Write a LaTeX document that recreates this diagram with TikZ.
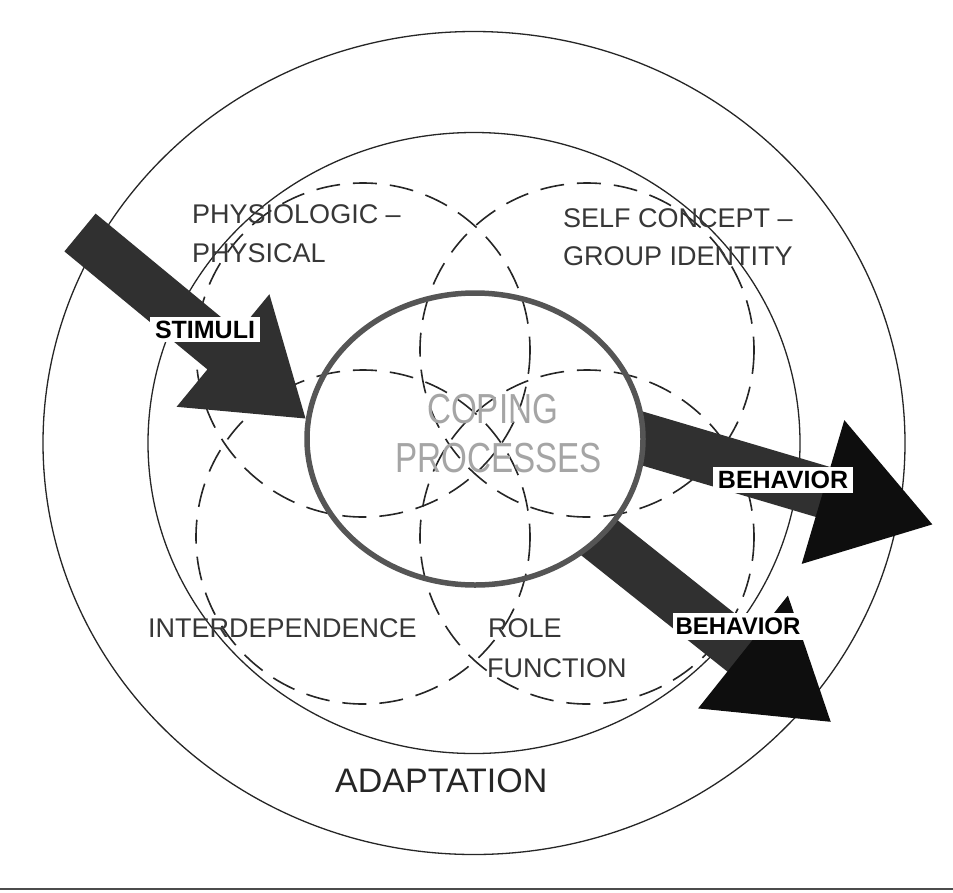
\documentclass[tikz,border=0pt]{standalone}
\usepackage{fontspec}
\setmainfont{Liberation Sans}
\newfontfamily\narrowfont[FakeStretch=0.79]{Liberation Sans}
\newfontfamily\boxfont{Liberation Sans}
\definecolor{arrowgray}{RGB}{48,48,48}
\definecolor{arrowblack}{RGB}{14,14,14}
\definecolor{ringgray}{RGB}{85,85,85}
\definecolor{labelgray}{RGB}{55,55,55}
\definecolor{copinggray}{RGB}{165,165,165}
\tikzset{
  thinring/.style={draw=black!85, line width=1.3},
  modering/.style={draw=black!85, line width=1.6, dash pattern=on 24 off 13},
  copingring/.style={draw=ringgray, line width=5.5},
  shaftfill/.style={fill=arrowgray, draw=none},
  headfill/.style={fill=arrowblack, draw=none},
  modelabel/.style={anchor=base west, inner sep=0, text=labelgray, font=\fontsize{27}{30}\selectfont},
  boxlabel/.style={fill=white, inner sep=0, text=black, font=\boxfont\bfseries\fontsize{25}{27}\selectfont},
}
\begin{document}
\begin{tikzpicture}[x=1pt,y=-1pt]
\useasboundingbox (0,0) rectangle (953,892);
\fill[white] (0,0) rectangle (953,892);

% centres
\coordinate (C) at (474,443);
\coordinate (K) at (475,439);
\coordinate (PP) at (363,350);
\coordinate (SC) at (587,350);
\coordinate (ID) at (363,537);
\coordinate (RF) at (587,537);

% outer rings
\draw[thinring] (C) ellipse [x radius=431, y radius=411.5];
\draw[thinring] (C) ellipse [x radius=326, y radius=310.5];

% four mode circles
\foreach \c in {PP,SC,ID,RF} \draw[modering] (\c) circle [radius=167];

% STIMULI arrow
\coordinate (s1) at (95.6,213.6);
\coordinate (s2) at (238.6,331.6);
\coordinate (s3) at (269.4,294.2);
\coordinate (sT) at (305.5,418.5);
\coordinate (s5) at (176.6,406.8);
\coordinate (s6) at (207.4,369.4);
\coordinate (s7) at (64.4,251.4);
\fill[shaftfill] (s1) -- (s2) -- (s3) -- (sT) -- (s5) -- (s6) -- (s7) -- cycle;

% upper BEHAVIOR arrow
\coordinate (b1) at (624.2,406.0);
\coordinate (b2) at (835.2,468.5);
\coordinate (b3) at (820.4,518.3);
\coordinate (b4) at (609.4,455.8);
\coordinate (bh1) at (844.3,420.1);
\coordinate (bT) at (932.3,524.4);
\coordinate (bh2) at (801.7,563.9);
\fill[shaftfill] (b1) -- (b2) -- (b3) -- (b4) -- cycle;
\fill[headfill] (bh1) -- (bT) -- (bh2) -- cycle;

% lower BEHAVIOR arrow
\coordinate (c1) at (590.3,498.5);
\coordinate (c2) at (762.5,635.5);
\coordinate (c3) at (731.3,674.7);
\coordinate (c4) at (559.1,537.7);
\coordinate (ch1) at (787.9,595.6);
\coordinate (cT) at (830.7,721.8);
\coordinate (ch2) at (698.1,708.4);
\fill[shaftfill] (c1) -- (c2) -- (c3) -- (c4) -- cycle;
\fill[headfill] (ch1) -- (cT) -- (ch2) -- cycle;

% coping processes circle
\fill[white] (K) ellipse [x radius=168, y radius=146];
\begin{scope}
  \clip (K) ellipse [x radius=168, y radius=146];
  \foreach \c in {PP,SC,ID,RF} \draw[modering] (\c) circle [radius=167];
\end{scope}
\draw[copingring] (K) ellipse [x radius=168, y radius=146];

% arrow labels
\node[boxlabel, minimum width=110, minimum height=25] (stim) at (205,329.5) {STIMULI};
\node[boxlabel, minimum width=140, minimum height=26] (beh1) at (783,480) {BEHAVIOR};
\node[boxlabel, minimum width=130, minimum height=27, font=\boxfont\bfseries\fontsize{24}{26}\selectfont] (beh2) at (738,626.5) {BEHAVIOR};

% mode labels
\node[modelabel] (pp1) at (192,223) {PHYSIOLOGIC --};
\node[modelabel] (pp2) at (192,262) {PHYSICAL};
\node[modelabel] (sc1) at (563,227) {SELF CONCEPT --};
\node[modelabel] (sc2) at (563,265) {GROUP IDENTITY};
\node[modelabel] (id1) at (148,637) {INTERDEPENDENCE};
\node[modelabel] (rf1) at (488,637) {ROLE};
\node[modelabel] (rf2) at (487,677) {FUNCTION};

% centre text
\node[anchor=base west, inner sep=0, text=copinggray, font=\narrowfont\fontsize{42}{44}\selectfont] (cop1) at (427,423) {COPING};
\node[anchor=base west, inner sep=0, text=copinggray, font=\narrowfont\fontsize{42}{44}\selectfont] (cop2) at (395,472) {PROCESSES};

% adaptation
\node[anchor=base west, inner sep=0, text=black!85, font=\fontsize{34}{36}\selectfont] (adapt) at (335,792) {ADAPTATION};

% scan border
\draw[black!70, line width=2] (0,889) -- (953,889);
\end{tikzpicture}
\end{document}
